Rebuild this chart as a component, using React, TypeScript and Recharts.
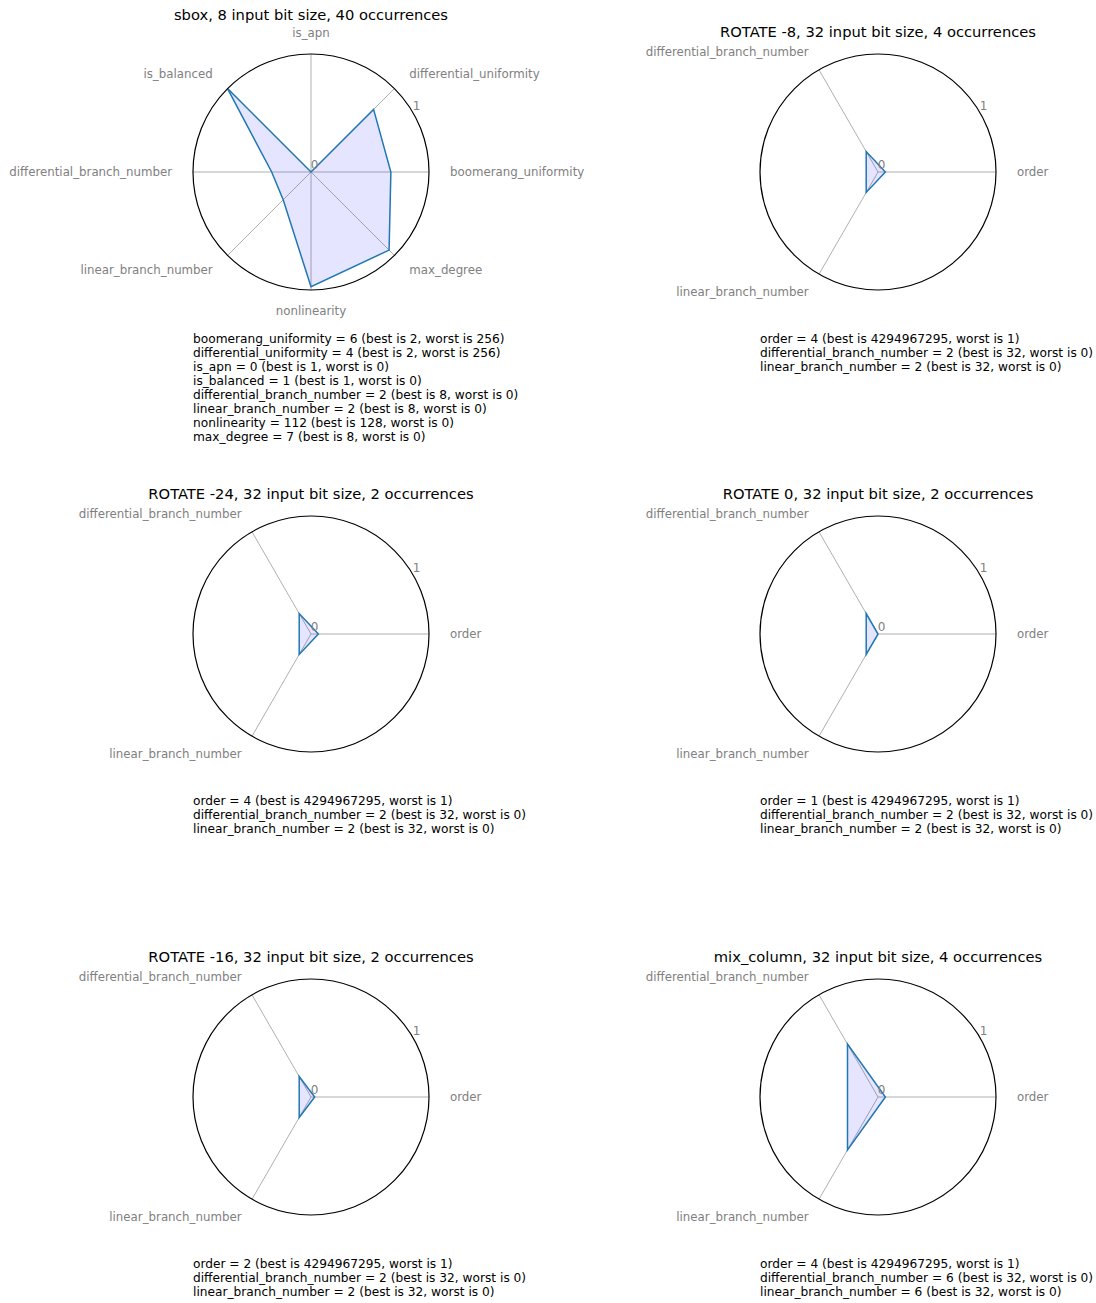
import React from "react";
import {
  RadarChart,
  PolarGrid,
  PolarAngleAxis,
  PolarRadiusAxis,
  Radar,
} from "recharts";

// metric names, values and their best / worst bounds
const SBOX_METRICS = [
  "boomerang_uniformity",
  "differential_uniformity",
  "is_apn",
  "is_balanced",
  "differential_branch_number",
  "linear_branch_number",
  "nonlinearity",
  "max_degree",
];
const SBOX_VALUES = [6, 4, 0, 1, 2, 2, 112, 7];
const SBOX_BEST = [2, 2, 1, 1, 8, 8, 128, 8];
const SBOX_WORST = [256, 256, 0, 0, 0, 0, 0, 0];

const WORD_METRICS = ["order", "differential_branch_number", "linear_branch_number"];
const WORD_BEST = [4294967295, 32, 32];
const WORD_WORST = [1, 0, 0];

const ROTATE_M8_VALUES = [4, 2, 2];
const ROTATE_M24_VALUES = [4, 2, 2];
const ROTATE_0_VALUES = [1, 2, 2];
const ROTATE_M16_VALUES = [2, 2, 2];
const MIX_COLUMN_VALUES = [4, 6, 6];

const RADIUS_TICKS = [0, 1];

const FONT = '"DejaVu Sans", sans-serif';
const GREY = "#808080";
const RADIUS = 118;
const CHART_W = 640;
const CHART_H = 360;

interface Panel {
  title: string;
  cx: number;
  cy: number;
  metrics: string[];
  values: number[];
  best: number[];
  worst: number[];
}

const panels: Panel[] = [
  { title: "sbox, 8 input bit size, 40 occurrences", cx: 311, cy: 172, metrics: SBOX_METRICS, values: SBOX_VALUES, best: SBOX_BEST, worst: SBOX_WORST },
  { title: "ROTATE -8, 32 input bit size, 4 occurrences", cx: 878, cy: 172, metrics: WORD_METRICS, values: ROTATE_M8_VALUES, best: WORD_BEST, worst: WORD_WORST },
  { title: "ROTATE -24, 32 input bit size, 2 occurrences", cx: 311, cy: 634, metrics: WORD_METRICS, values: ROTATE_M24_VALUES, best: WORD_BEST, worst: WORD_WORST },
  { title: "ROTATE 0, 32 input bit size, 2 occurrences", cx: 878, cy: 634, metrics: WORD_METRICS, values: ROTATE_0_VALUES, best: WORD_BEST, worst: WORD_WORST },
  { title: "ROTATE -16, 32 input bit size, 2 occurrences", cx: 311, cy: 1097, metrics: WORD_METRICS, values: ROTATE_M16_VALUES, best: WORD_BEST, worst: WORD_WORST },
  { title: "mix_column, 32 input bit size, 4 occurrences", cx: 878, cy: 1097, metrics: WORD_METRICS, values: MIX_COLUMN_VALUES, best: WORD_BEST, worst: WORD_WORST },
];

// log-scaled score: 0 = worst, 1 = best
const normalise = (value: number, best: number, worst: number) => {
  if (value <= 0) return 0;
  if (best > worst) {
    if (value >= best) return 1;
    return Math.log(value) / Math.log(best);
  }
  return 1 - Math.log(value) / Math.log(worst);
};

const AngleTick = (props: any) => {
  const { x, y, textAnchor, payload } = props;
  return (
    <text
      x={x}
      y={y}
      textAnchor={textAnchor}
      dominantBaseline="central"
      fill={GREY}
      fontSize={11.8}
      fontFamily={FONT}
    >
      {payload.value}
    </text>
  );
};

const RadiusTick = (props: any) => {
  const { x, y, payload } = props;
  return (
    <text
      x={x + 3.5}
      y={y - 7}
      textAnchor="middle"
      dominantBaseline="central"
      fill={GREY}
      fontSize={12}
      fontFamily={FONT}
    >
      {payload.value}
    </text>
  );
};

const RadarPanel = ({ panel }: { panel: Panel }) => {
  const n = panel.metrics.length;
  // the chart lays categories out clockwise from the right, so keep the
  // first metric there and feed the rest backwards -> counter-clockwise order
  const order = [0, ...panel.metrics.map((_, i) => n - 1 - i).slice(0, n - 1)];
  const data = order.map((i) => ({
    metric: panel.metrics[i],
    score: normalise(panel.values[i], panel.best[i], panel.worst[i]),
  }));
  const hasTopLabel = n % 4 === 0;
  const titleY = panel.cy - (hasTopLabel ? 157 : 140);

  return (
    <>
      <div
        style={{
          position: "absolute",
          left: panel.cx - CHART_W / 2,
          top: panel.cy - CHART_H / 2,
          width: CHART_W,
          height: CHART_H,
        }}
      >
        <RadarChart
          width={CHART_W}
          height={CHART_H}
          data={data}
          cx={CHART_W / 2}
          cy={CHART_H / 2}
          outerRadius={RADIUS}
          startAngle={0}
          endAngle={-360}
          margin={{ top: 0, right: 0, bottom: 0, left: 0 }}
        >
          <PolarGrid
            gridType="circle"
            polarRadius={[]}
            stroke="#b0b0b0"
            strokeWidth={1}
          />
          <PolarAngleAxis
            dataKey="metric"
            axisLineType="circle"
            stroke="#000000"
            strokeWidth={1.2}
            tickLine={false}
            tickSize={21}
            tick={<AngleTick />}
          />
          <PolarRadiusAxis
            type="number"
            domain={[0, 1]}
            ticks={RADIUS_TICKS}
            angle={30}
            axisLine={false}
            tickLine={false}
            tick={<RadiusTick />}
          />
          <Radar
            dataKey="score"
            stroke="#1f77b4"
            strokeWidth={1.5}
            fill="blue"
            fillOpacity={0.1}
            dot={false}
            isAnimationActive={false}
          />
        </RadarChart>
      </div>
      <div
        style={{
          position: "absolute",
          left: panel.cx - 300,
          top: titleY - 10,
          width: 600,
          textAlign: "center",
          fontSize: 14.7,
          lineHeight: "20px",
          color: "#000",
        }}
      >
        {panel.title}
      </div>
      <div
        style={{
          position: "absolute",
          left: panel.cx - RADIUS,
          top: panel.cy + 160,
          fontSize: 12.2,
          lineHeight: "14px",
          whiteSpace: "pre",
          color: "#000",
        }}
      >
        {panel.metrics.map((metric, i) => (
          <div key={metric}>
            {`${metric} = ${panel.values[i]} (best is ${panel.best[i]}, worst is ${panel.worst[i]})`}
          </div>
        ))}
      </div>
    </>
  );
};

export default function App() {
  return (
    <div
      style={{
        position: "absolute",
        left: 0,
        top: 0,
        width: 1096,
        height: 1303,
        overflow: "hidden",
        background: "#fff",
        fontFamily: FONT,
      }}
    >
      <style>{`.recharts-surface { overflow: visible; }`}</style>
      {panels.map((panel) => (
        <RadarPanel key={panel.title} panel={panel} />
      ))}
    </div>
  );
}
